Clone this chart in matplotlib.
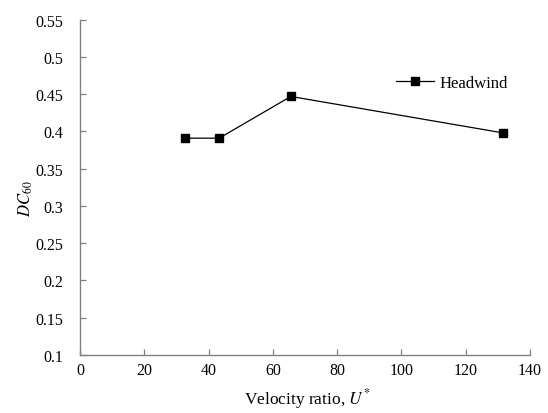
import matplotlib
matplotlib.use("Agg")
import matplotlib.pyplot as plt

velocity_ratio = [32.7, 43.3, 65.6, 131.7]
dc60 = [0.391, 0.391, 0.447, 0.398]
series_label = "Headwind"
x_ticks = [0, 20, 40, 60, 80, 100, 120, 140]
y_ticks = [0.1, 0.15, 0.2, 0.25, 0.3, 0.35, 0.4, 0.45, 0.5, 0.55]
y_tick_labels = ["0.1", "0.15", "0.2", "0.25", "0.3", "0.35", "0.4", "0.45", "0.5", "0.55"]

plt.rcParams['font.family'] = ['Liberation Serif', 'DejaVu Serif']
plt.rcParams['mathtext.fontset'] = 'stix'

fig = plt.figure(figsize=(5.48, 4.14), dpi=100)
ax = fig.add_axes([80/548, 1 - 356/414, 450/548, 335.3/414])

ax.plot(velocity_ratio, dc60, color='black', lw=0.9, marker='s', ms=6,
        markerfacecolor='black', markeredgecolor='black', label=series_label)

ax.set_xlim(0, 140)
ax.set_ylim(0.1, 0.55)
ax.set_xticks(x_ticks)
ax.set_yticks(y_ticks)
ax.set_yticklabels(y_tick_labels)

for s in ['top', 'right']:
    ax.spines[s].set_visible(False)
for s in ['left', 'bottom']:
    ax.spines[s].set_color('#808080')
    ax.spines[s].set_linewidth(1.0)

ax.tick_params(axis='both', direction='in', length=4.5, width=0.9, color='#808080',
               labelsize=11.5, labelcolor='black')
ax.tick_params(axis='y', pad=12)
ax.tick_params(axis='x', pad=5)

ax.set_xlabel(r'Velocity ratio, $U^{*}$', fontsize=12.5)
ax.xaxis.set_label_coords(0.504, -0.092)
ax.set_ylabel(r'$DC_{60}$', fontsize=12)
ax.yaxis.set_label_coords(-0.10, 0.47)

ax.legend(loc='center left', bbox_to_anchor=(0.702, 0.811), frameon=False,
          borderpad=0, borderaxespad=0, handlelength=2.3, handletextpad=0.3,
          fontsize=12)

fig.savefig('out.png', dpi=100)
